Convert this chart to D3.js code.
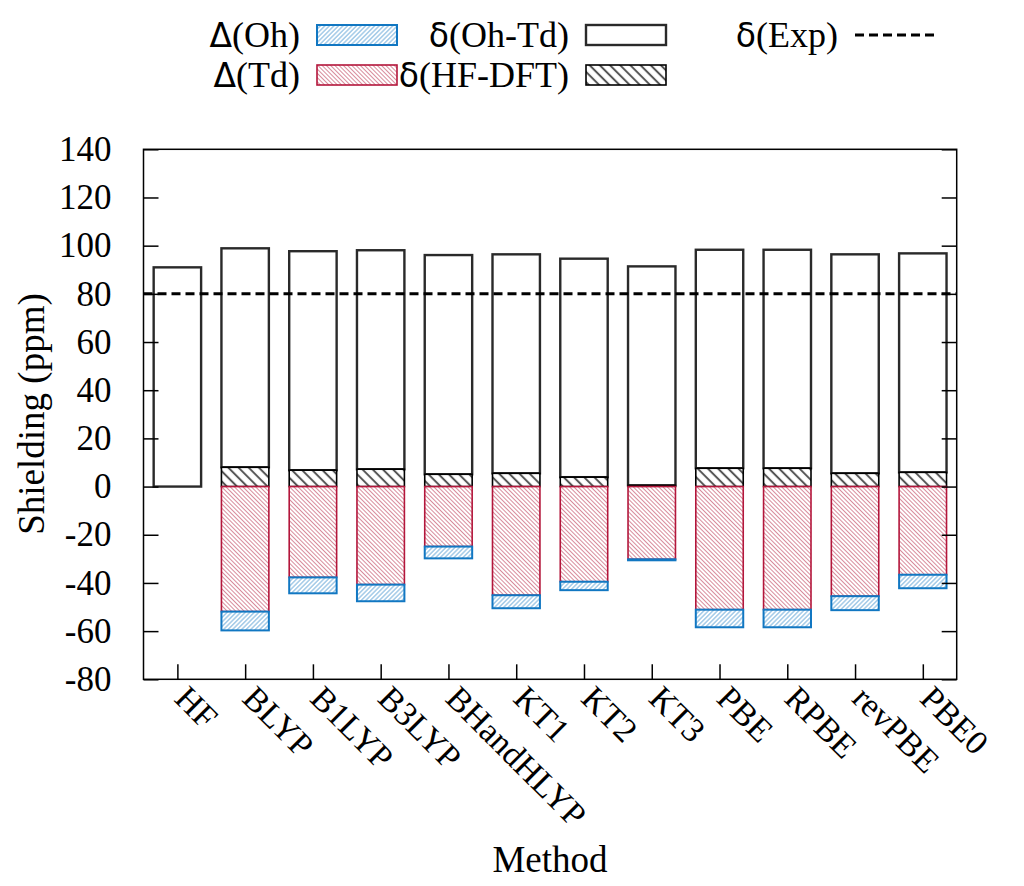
<!DOCTYPE html>
<html><head><meta charset="utf-8">
<script src="https://cdn.jsdelivr.net/npm/d3@7"></script>
<style>body{margin:0;background:#fff}svg{display:block}</style>
</head><body>
<svg id="c" width="1024" height="886"></svg>
<script>
const methods = ["HF","BLYP","B1LYP","B3LYP","BHandHLYP","KT1","KT2","KT3","PBE","RPBE","revPBE","PBE0"];
// positive stack: δ(HF-DFT) at bottom, δ(Oh-Td) on top
const deltaHFDFT = [0.0, 8.0, 6.8, 7.2, 5.1, 5.5, 3.9, 0.5, 7.6, 7.6, 5.5, 5.9];
const deltaOhTd  = [91.0, 90.9, 90.9, 90.9, 91.0, 90.9, 90.7, 90.9, 90.7, 90.7, 90.9, 90.9];
// negative stack: Δ(Td) from zero, Δ(Oh) below it
const DeltaTd = [0.0, -51.9, -37.7, -40.7, -24.9, -45.1, -39.5, -30.2, -51.1, -51.1, -45.5, -36.6];
const DeltaOh = [0.0, -7.8, -6.6, -6.9, -4.9, -5.4, -3.5, -0.4, -7.3, -7.3, -5.8, -5.6];
const deltaExp = 80;
const yTicks = [-80,-60,-40,-20,0,20,40,60,80,100,120,140];

const SERIF = "Liberation Serif";
const svg = d3.select("#c");
const L = 143.5, R = 956.7, T = 149.3, B = 679.3;
const x = d3.scaleLinear().domain([-0.5, methods.length - 0.5]).range([L, R]);
const y = d3.scaleLinear().domain([-80, 140]).range([B, T]);
const bw = (x(1) - x(0)) * 0.7;

const defs = svg.append("defs");
function hatch(id, angle, size, color, width) {
  const p = defs.append("pattern").attr("id", id).attr("patternUnits", "userSpaceOnUse")
    .attr("width", size).attr("height", size).attr("patternTransform", `rotate(${angle})`);
  p.append("rect").attr("width", size).attr("height", size).attr("fill", "#fff");
  p.append("line").attr("x1", size/2).attr("y1", -1).attr("x2", size/2).attr("y2", size+1)
    .attr("stroke", color).attr("stroke-width", width);
}
hatch("hOh", 45, 3.2, "#84b8e0", 1.1);
hatch("hTd", -45, 3.0, "#d88c9c", 1.0);
hatch("hHF", -45, 7.2, "#555", 2.0);

const styles = {
  oh:   {fill: "url(#hOh)", stroke: "#1177c2", sw: 2},
  td:   {fill: "url(#hTd)", stroke: "#b3163b", sw: 1.6},
  hf:   {fill: "url(#hHF)", stroke: "#000", sw: 1.6},
  ohtd: {fill: "#fff", stroke: "#2a2a2a", sw: 2.4}
};

const rows = methods.map((m, i) => ({
  m, i,
  segs: [
    {k: "ohtd", y0: deltaHFDFT[i], y1: deltaHFDFT[i] + deltaOhTd[i]},
    {k: "hf",   y0: 0, y1: deltaHFDFT[i]},
    {k: "td",   y0: 0, y1: DeltaTd[i]},
    {k: "oh",   y0: DeltaTd[i], y1: DeltaTd[i] + DeltaOh[i]}
  ]
}));

const g = svg.append("g");
rows.forEach(r => {
  r.segs.forEach(s => {
    if (Math.abs(s.y1 - s.y0) < 1e-9) return;
    const st = styles[s.k];
    g.append("rect")
      .attr("x", x(r.i) - bw/2).attr("width", bw)
      .attr("y", y(Math.max(s.y0, s.y1)))
      .attr("height", Math.abs(y(s.y0) - y(s.y1)))
      .attr("fill", st.fill).attr("stroke", st.stroke).attr("stroke-width", st.sw);
  });
});

svg.append("line").attr("x1", L).attr("x2", R).attr("y1", y(deltaExp)).attr("y2", y(deltaExp))
  .attr("stroke", "#000").attr("stroke-width", 3).attr("stroke-dasharray", "9,5");

svg.append("rect").attr("x", L).attr("y", T).attr("width", R - L).attr("height", B - T)
  .attr("fill", "none").attr("stroke", "#000").attr("stroke-width", 1.5);

const yAxisL = d3.axisLeft(y).tickValues(yTicks).tickFormat(d => String(d))
  .tickSizeInner(-15).tickSizeOuter(0).tickPadding(32);
const gy = svg.append("g").attr("transform", `translate(${L},0)`).call(yAxisL);
gy.select(".domain").remove();
gy.selectAll("line").attr("stroke", "#000").attr("stroke-width", 1.5);
gy.selectAll("text").style("font-family", SERIF).style("font-size", "35px").attr("fill", "#000");

const yAxisR = d3.axisRight(y).tickValues(yTicks).tickSizeInner(-15).tickSizeOuter(0).tickFormat("");
const gyr = svg.append("g").attr("transform", `translate(${R},0)`).call(yAxisR);
gyr.select(".domain").remove();
gyr.selectAll("line").attr("stroke", "#000").attr("stroke-width", 1.5);

const xAxis = d3.axisBottom(x).tickValues(d3.range(methods.length)).tickFormat(i => methods[i])
  .tickSizeInner(-15).tickSizeOuter(0);
const gx = svg.append("g").attr("transform", `translate(0,${B})`).call(xAxis);
gx.select(".domain").remove();
gx.selectAll("line").attr("stroke", "#000").attr("stroke-width", 1.5);
gx.selectAll("text")
  .style("font-family", SERIF).style("font-size", "34px").attr("fill", "#000")
  .attr("text-anchor", "start").attr("dy", null).attr("y", 0)
  .attr("transform", "translate(-5,21) rotate(45)");

svg.append("text").attr("transform", `translate(44,414) rotate(-90)`)
  .attr("text-anchor", "middle").style("font-family", SERIF).style("font-size", "37px").text("Shielding (ppm)");
svg.append("text").attr("x", 550).attr("y", 872)
  .attr("text-anchor", "middle").style("font-family", SERIF).style("font-size", "37px").text("Method");

const legend = [
  {g: "Δ", t: "(Oh)", k: "oh", tx: 300, y: 35},
  {g: "Δ", t: "(Td)", k: "td", tx: 300, y: 75},
  {g: "δ", t: "(Oh-Td)", k: "ohtd", tx: 569, y: 35},
  {g: "δ", t: "(HF-DFT)", k: "hf", tx: 569, y: 75},
  {g: "δ", t: "(Exp)", k: "exp", tx: 838, y: 35}
];
const lg = svg.append("g");
legend.forEach(d => {
  const t = lg.append("text").attr("x", d.tx).attr("y", d.y + 12).attr("text-anchor", "end")
    .style("font-family", SERIF).style("font-size", "36px");
  t.append("tspan").style("font-family", "DejaVu Sans").style("font-size", "33px").text(d.g);
  t.append("tspan").text(d.t);
  const bx = d.tx + 17;
  if (d.k === "exp") {
    lg.append("line").attr("x1", bx).attr("x2", bx + 82).attr("y1", d.y).attr("y2", d.y)
      .attr("stroke", "#000").attr("stroke-width", 3).attr("stroke-dasharray", "9,5");
  } else {
    const st = styles[d.k];
    lg.append("rect").attr("x", bx).attr("y", d.y - 10).attr("width", 80).attr("height", 20)
      .attr("fill", st.fill).attr("stroke", st.stroke).attr("stroke-width", st.sw);
  }
});
</script>
</body></html>
